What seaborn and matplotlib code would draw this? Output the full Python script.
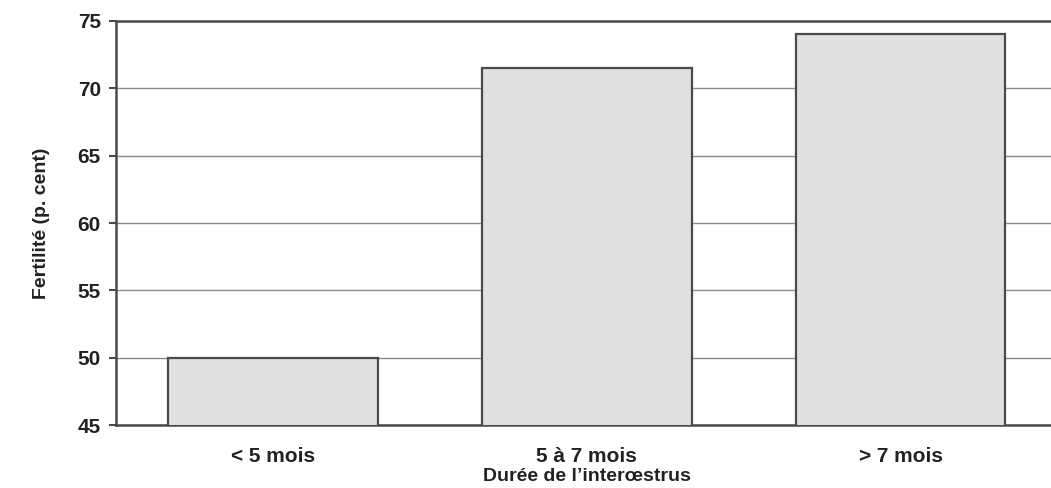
"""
Fertilité selon la durée de l'interœstrus
"""

import seaborn as sns
import matplotlib.pyplot as plt
import pandas as pd

# Data
categories = ["< 5 mois", "5 à 7 mois", "> 7 mois"]
fertilite = [50.0, 71.5, 74.0]
yticks = [45, 50, 55, 60, 65, 70, 75]

df = pd.DataFrame({"duree": categories, "fertilite": fertilite})

sns.set_style("white")
plt.rcParams["font.family"] = ["Liberation Sans", "DejaVu Sans"]
plt.rcParams["font.weight"] = "bold"

fig = plt.figure(figsize=(10.51, 4.88), dpi=100)
# axes runs a bit past the right edge, like the cropped scan
ax = fig.add_axes([0.1104, 0.129, 0.896, 0.828])

sns.barplot(data=df, x="duree", y="fertilite", ax=ax, width=0.667,
            color="#e0e0e0", edgecolor="#4a4a4a", linewidth=1.6,
            saturation=1, zorder=3)

ax.set_ylim(45, 75)
ax.set_yticks(yticks)
ax.set_xlim(-0.5, 2.5)
ax.yaxis.grid(True, color="#8a8a8a", linewidth=1.0, zorder=0)
ax.set_axisbelow(True)

for side in ["left", "bottom", "top"]:
    ax.spines[side].set_color("#4a4a4a")
    ax.spines[side].set_linewidth(1.8)
ax.spines["right"].set_visible(False)

# ticks between categories, as in the scan
ax.set_xticks([0.5, 1.5], minor=True)
ax.tick_params(axis="x", which="major", length=0, pad=16, labelsize=15)
ax.tick_params(axis="x", which="minor", length=5, width=1.5,
               color="#4a4a4a", direction="out")
ax.tick_params(axis="y", length=5, width=1.5, color="#4a4a4a",
               labelsize=15, pad=6, left=True)

for lab in ax.get_xticklabels() + ax.get_yticklabels():
    lab.set_fontweight("bold")
    lab.set_color("#222222")

ax.set_xlabel("Durée de l’interœstrus", fontsize=14, fontweight="bold",
              color="#222222", labelpad=1)
ax.set_ylabel("Fertilité (p. cent)", fontsize=14, fontweight="bold",
              color="#222222", labelpad=20)

plt.savefig("out.png", dpi=100)
